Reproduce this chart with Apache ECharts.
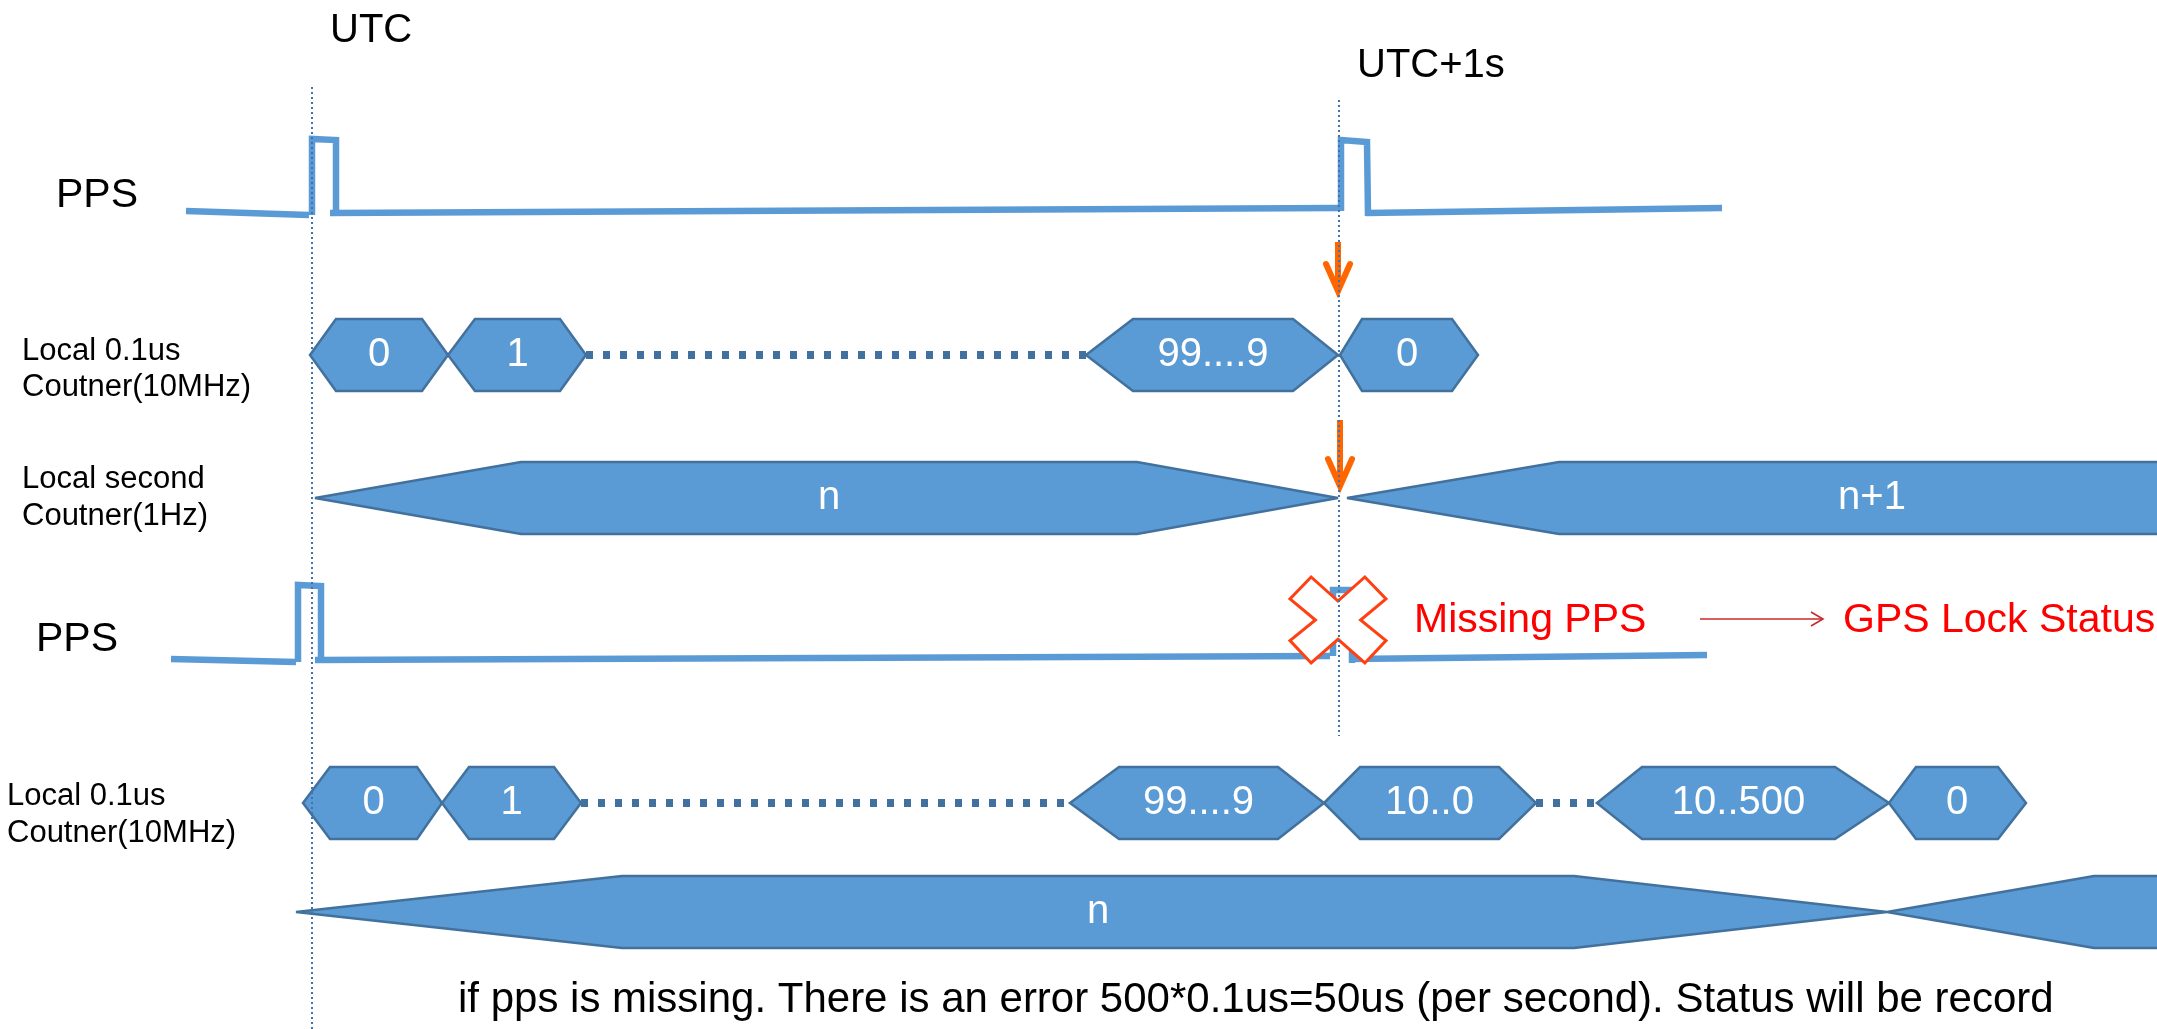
<!DOCTYPE html>
<html>
<head>
<meta charset="utf-8">
<title>PPS timing</title>
<script src="https://cdn.jsdelivr.net/npm/echarts@6/dist/echarts.min.js"></script>
<style>
  html, body { margin: 0; padding: 0; background: #fff; }
  #chart { width: 2157px; height: 1029px; }
</style>
</head>
<body>
<div id="chart"></div>
<script>
// time runs along x, signal level along y (both)
const ppsLine1 = [
  [[186, 211], [309, 215]],
  [[312, 215], [312, 139], [336, 140], [336, 215]],
  [[330, 213], [1338, 208]],
  [[1341, 211], [1341, 140], [1367, 142], [1368, 216]],
  [[1366, 213], [1722, 208]]
];
const ppsLine2 = [
  [[171, 659], [296, 662]],
  [[298, 662], [298, 585], [321, 586], [321, 662]],
  [[315, 660], [1330, 656]],
  [[1333, 656], [1333, 590], [1352, 590], [1352, 663]],
  [[1350, 659], [1707, 655]]
];

// bus states: [edge start, flat start, flat end, edge end, label]
const fastCounter1 = [
  [310, 336, 422, 448, '0'],
  [448, 475, 560, 586, '1'],
  [1086, 1133, 1293, 1338, '99....9'],
  [1340, 1362, 1452, 1478, '0']
];
const secondCounter1 = [
  [315, 521, 1137, 1338, 'n'],
  [1347, 1559, 2185, 2230, 'n+1']
];
const fastCounter2 = [
  [303, 330, 417, 442, '0'],
  [442, 469, 554, 581, '1'],
  [1070, 1119, 1278, 1324, '99....9'],
  [1324, 1360, 1499, 1536, '10..0'],
  [1597, 1642, 1835, 1889, '10..500'],
  [1889, 1916, 1998, 2026, '0']
];
const secondCounter2 = [
  [296, 622, 1574, 1887, 'n'],
  [1887, 2094, 2300, 2350, '']
];
const busLevels = [355, 498, 803, 912];

// "…" gaps between counter states: [from, to, level]
const gapRuns = [[586, 1086, 355], [581, 1070, 803], [1536, 1597, 803]];

// time markers: [time, from level, to level]
const timeMarkers = [[312, 87, 1029], [1339, 100, 736]];
const markerLabels = [[330, 31, 'UTC'], [1357, 66, 'UTC+1s']];

// sync arrows: [x0, y0, x1, y1]
const syncArrows = [[1338, 242, 1338, 291], [1340, 420, 1340, 486]];

const missingMark = [1338, 620];
const statusArrow = [1700, 619, 1823, 619];

const signalLabels = [[56, 196, 'PPS'], [36, 640, 'PPS']];
const rowLabels = [
  [22, 351, 'Local 0.1us'], [22, 387, 'Coutner(10MHz)'],
  [22, 479, 'Local second'], [22, 516, 'Coutner(1Hz)'],
  [7, 796, 'Local 0.1us'], [7, 833, 'Coutner(10MHz)']
];
const alertLabels = [[1414, 621, 'Missing PPS'], [1843, 621, 'GPS Lock Status']];
const noteLabels = [[458, 1000, 'if pps is missing. There is an error 500*0.1us=50us (per second). Status will be record']];

const FONT = '"Liberation Sans", Arial, Helvetica, sans-serif';
const WAVE = '#5B9BD5';
const EDGE = '#41719C';

function strokeSeries(strokes, style) {
  return {
    type: 'custom', silent: true, clip: true,
    data: strokes.map(s => s[0]),
    renderItem: (params, api) => ({
      type: 'polyline',
      shape: { points: strokes[params.dataIndex].map(p => api.coord(p)) },
      style: Object.assign({ fill: null }, style)
    })
  };
}

function busSeries(states, level) {
  const half = 36;
  return {
    type: 'custom', silent: true, clip: true,
    data: states.map(s => [s[0], level]),
    renderItem: (params, api) => {
      const s = states[params.dataIndex];
      const pts = [
        [s[0], level], [s[1], level - half], [s[2], level - half],
        [s[3], level], [s[2], level + half], [s[1], level + half]
      ].map(p => api.coord(p));
      const mid = api.coord([(s[1] + s[2]) / 2, level]);
      return {
        type: 'group',
        children: [
          { type: 'polygon', shape: { points: pts },
            style: { fill: WAVE, stroke: EDGE, lineWidth: 2.5, lineJoin: 'miter', miterLimit: 2 } },
          { type: 'text', x: mid[0], y: mid[1],
            style: { text: s[4], fill: '#fff', font: '40px ' + FONT, align: 'center', verticalAlign: 'middle' } }
        ]
      };
    }
  };
}

function gapSeries(runs) {
  return {
    type: 'custom', silent: true,
    data: runs.map(r => [r[0], r[2]]),
    renderItem: (params, api) => {
      const r = runs[params.dataIndex];
      const a = api.coord([r[0], r[2]]), b = api.coord([r[1], r[2]]);
      return { type: 'line', shape: { x1: a[0], y1: a[1], x2: b[0], y2: b[1] },
        style: { stroke: EDGE, lineWidth: 8, lineDash: [7, 10], lineCap: 'butt' } };
    }
  };
}

function markerSeries() {
  return {
    type: 'custom', silent: true,
    data: timeMarkers.map(m => [m[0], m[1]]),
    renderItem: (params, api) => {
      const m = timeMarkers[params.dataIndex];
      const a = api.coord([m[0], m[1]]), b = api.coord([m[0], m[2]]);
      return { type: 'line', shape: { x1: a[0], y1: a[1], x2: b[0], y2: b[1] },
        style: { stroke: '#3F72AF', lineWidth: 2, lineDash: [2, 3] } };
    }
  };
}

function arrowSeries() {
  return {
    type: 'custom', silent: true,
    data: syncArrows.map(a => [a[0], a[1]]),
    renderItem: (params, api) => {
      const a = syncArrows[params.dataIndex];
      const p0 = api.coord([a[0], a[1]]), p1 = api.coord([a[2], a[3]]);
      const st = { stroke: '#FF6600', lineWidth: 6, fill: null, lineJoin: 'miter' };
      return {
        type: 'group',
        children: [
          { type: 'line', shape: { x1: p0[0], y1: p0[1], x2: p1[0], y2: p1[1] - 4 }, style: st },
          { type: 'polyline', shape: { points: [[p1[0] - 12, p1[1] - 27], [p1[0], p1[1]], [p1[0] + 12, p1[1] - 27]] },
            style: Object.assign({ lineCap: 'round' }, st) }
        ]
      };
    }
  };
}

function missingSeries() {
  const shape = [[-0.56, -1], [0, -0.44], [0.56, -1], [1, -0.49], [0.47, 0], [1, 0.48],
    [0.56, 1], [0, 0.45], [-0.56, 1], [-1, 0.48], [-0.47, 0], [-1, -0.49]];
  return {
    type: 'custom', silent: true,
    data: [missingMark],
    renderItem: (params, api) => {
      const c = api.coord(missingMark);
      return { type: 'polygon',
        shape: { points: shape.map(p => [c[0] + p[0] * 48, c[1] + p[1] * 43]) },
        style: { fill: '#fff', stroke: '#FF4010', lineWidth: 3 } };
    }
  };
}

function statusArrowSeries() {
  return {
    type: 'custom', silent: true,
    data: [[statusArrow[0], statusArrow[1]]],
    renderItem: (params, api) => {
      const a = api.coord([statusArrow[0], statusArrow[1]]), b = api.coord([statusArrow[2], statusArrow[3]]);
      const st = { stroke: '#C8282A', lineWidth: 1.6, fill: null };
      return {
        type: 'group',
        children: [
          { type: 'line', shape: { x1: a[0], y1: a[1], x2: b[0], y2: b[1] }, style: st },
          { type: 'polyline', shape: { points: [[b[0] - 12, b[1] - 7], b, [b[0] - 12, b[1] + 7]] }, style: st }
        ]
      };
    }
  };
}

function textSeries(items, size, color) {
  return {
    type: 'custom', silent: true,
    data: items.map(t => [t[0], t[1]]),
    renderItem: (params, api) => {
      const t = items[params.dataIndex];
      const p = api.coord([t[0], t[1]]);
      return { type: 'text', x: p[0], y: p[1],
        style: { text: t[2], fill: color, font: size + 'px ' + FONT, align: 'left', verticalAlign: 'middle' } };
    }
  };
}

const chart = echarts.init(document.getElementById('chart'), null, { renderer: 'canvas' });
chart.setOption({
  backgroundColor: '#ffffff',
  animation: false,
  grid: { left: 0, right: 0, top: 0, bottom: 0 },
  xAxis: { type: 'value', min: 0, max: 2157, show: false },
  yAxis: { type: 'value', min: 0, max: 1029, inverse: true, show: false },
  series: [
    strokeSeries(ppsLine1, { stroke: WAVE, lineWidth: 6.5, lineJoin: 'miter' }),
    strokeSeries(ppsLine2, { stroke: WAVE, lineWidth: 6.5, lineJoin: 'miter' }),
    busSeries(fastCounter1, busLevels[0]),
    busSeries(secondCounter1, busLevels[1]),
    busSeries(fastCounter2, busLevels[2]),
    busSeries(secondCounter2, busLevels[3]),
    gapSeries(gapRuns),
    missingSeries(),
    arrowSeries(),
    statusArrowSeries(),
    markerSeries(),
    textSeries(markerLabels, 40, '#000'),
    textSeries(signalLabels, 41, '#000'),
    textSeries(rowLabels, 31, '#000'),
    textSeries(alertLabels, 41, '#FF0000'),
    textSeries(noteLabels, 42, '#000')
  ]
});
window.addEventListener('resize', () => chart.resize());
</script>
</body>
</html>
